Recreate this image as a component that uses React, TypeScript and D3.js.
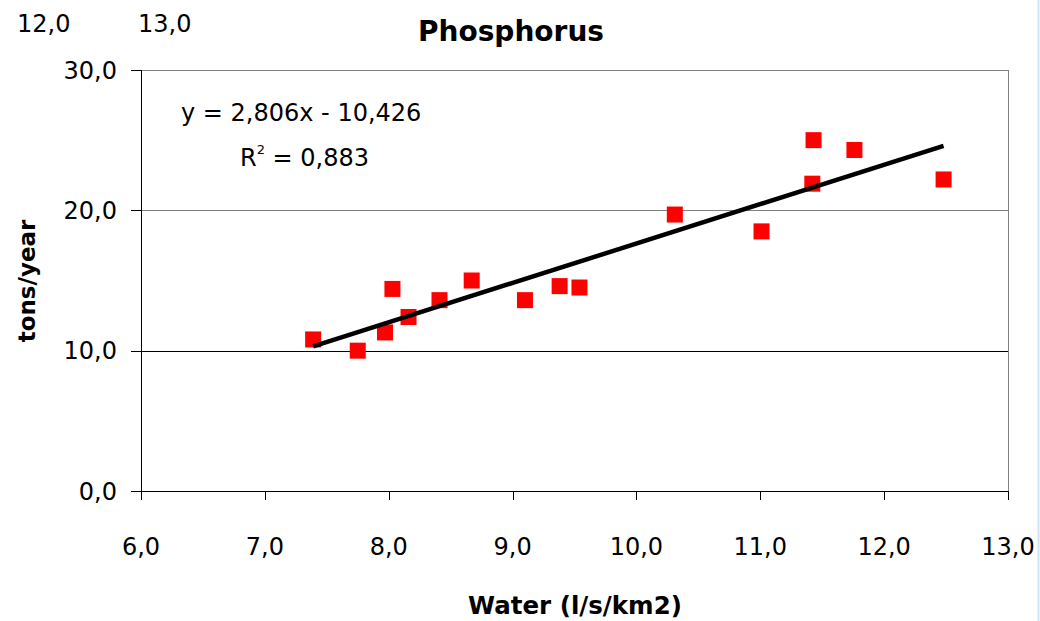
import React from 'react';
import * as d3 from 'd3';

// water runoff (l/s/km2) vs phosphorus load (tons/year)
const water = [7.39, 7.75, 7.97, 8.03, 8.16, 8.41, 8.67, 9.10, 9.38, 9.54, 10.31, 11.01, 11.42, 11.43, 11.76, 12.48];
const phosphorus = [10.8, 10.0, 11.3, 14.4, 12.4, 13.6, 15.0, 13.6, 14.6, 14.5, 19.7, 18.5, 21.9, 25.0, 24.3, 22.2];

const xTicks = [6, 7, 8, 9, 10, 11, 12, 13];
const yTicks = [0, 10, 20, 30];
const strayLabels = ['12,0', '13,0'];

const slope = 2.806;
const intercept = -10.426;
const r2 = '0,883';

const W = 1040;
const H = 621;
const margin = { top: 70, right: 32, bottom: 130, left: 141 };
const font = "'DejaVu Sans', sans-serif";

const fmt = (v: number) => d3.format('.1f')(v).replace('.', ',');
const fmt3 = (v: number) => d3.format('.3f')(v).replace('.', ',');

export default function App() {
  const x = d3.scaleLinear().domain([6, 13]).range([margin.left, W - margin.right]);
  const y = d3.scaleLinear().domain([0, 30]).range([H - margin.bottom, margin.top]);

  const [x0, x1] = d3.extent(water) as [number, number];
  const trend = d3.line<number>()
    .x(d => x(d))
    .y(d => y(slope * d + intercept));

  const size = 16;
  const bottom = y(0);
  const right = x(13);

  return (
    <svg width={W} height={H} style={{ position: 'absolute', left: 0, top: 0, background: '#fff' }} fontFamily={font}>
      {/* stray labels top left */}
      {strayLabels.map((t, i) => (
        <text key={t} x={i === 0 ? 17 : 138} y={32} fontSize={24} fill="#000">{t}</text>
      ))}

      <text x={511} y={41} textAnchor="middle" fontSize={28} fontWeight="bold">Phosphorus</text>

      {/* grid lines */}
      {yTicks.filter(t => t > 0 && t < 30).map(t => (
        <line key={t} x1={margin.left} x2={right} y1={Math.round(y(t)) + 0.5} y2={Math.round(y(t)) + 0.5}
          stroke={t === 10 ? '#000' : '#808080'} strokeWidth={1} />
      ))}
      {/* frame top/right */}
      <line x1={margin.left} x2={right} y1={margin.top + 0.5} y2={margin.top + 0.5} stroke="#808080" />
      <line x1={right + 0.5} x2={right + 0.5} y1={margin.top} y2={bottom + 8} stroke="#808080" />

      {/* y axis */}
      <line x1={margin.left + 0.5} x2={margin.left + 0.5} y1={margin.top} y2={bottom} stroke="#000" />
      {yTicks.map(t => (
        <g key={t}>
          <line x1={margin.left - 10} x2={margin.left} y1={Math.round(y(t)) + 0.5} y2={Math.round(y(t)) + 0.5} stroke="#000" />
          <text x={117} y={y(t)} dy="0.36em" textAnchor="end" fontSize={24}>{fmt(t)}</text>
        </g>
      ))}

      {/* x axis */}
      <line x1={margin.left} x2={right} y1={bottom + 0.5} y2={bottom + 0.5} stroke="#000" />
      {xTicks.map(t => (
        <g key={t}>
          <line x1={Math.round(x(t)) + 0.5} x2={Math.round(x(t)) + 0.5} y1={bottom} y2={bottom + 9} stroke="#000" />
          <text x={x(t)} y={555} textAnchor="middle" fontSize={24}>{fmt(t)}</text>
        </g>
      ))}

      <text x={575} y={614} textAnchor="middle" fontSize={24.5} fontWeight="bold">Water (l/s/km2)</text>
      <text transform="translate(35,281) rotate(-90)" textAnchor="middle" fontSize={23} fontWeight="bold">tons/year</text>

      {/* points */}
      {water.map((w, i) => (
        <rect key={i} x={x(w) - size / 2} y={y(phosphorus[i]) - size / 2} width={size} height={size} fill="#ff0000" />
      ))}

      {/* trend line */}
      <path d={trend([x0, x1]) ?? ''} fill="none" stroke="#000" strokeWidth={4.5} />

      {/* equation */}
      <text x={181} y={121} fontSize={24}>{`y = ${fmt3(slope)}x - ${fmt3(-intercept)}`}</text>
      <text x={240} y={166} fontSize={24}>
        R<tspan dy={-12} fontSize={13}>2</tspan><tspan dy={12}>{` = ${r2}`}</tspan>
      </text>

      {/* faint border at right edge */}
      <line x1={1038.5} x2={1038.5} y1={0} y2={H} stroke="#cfe6f2" strokeWidth={2} />
    </svg>
  );
}
